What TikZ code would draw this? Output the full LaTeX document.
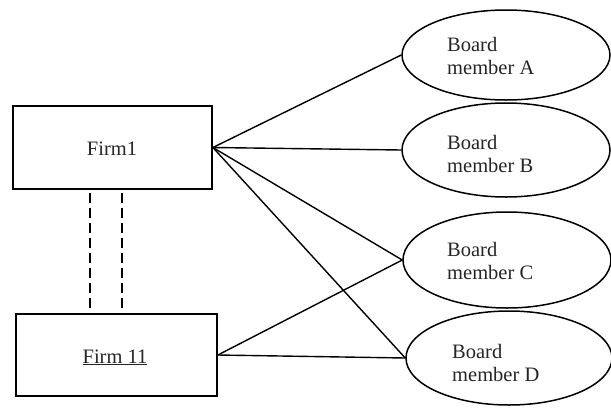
\documentclass[tikz,border=0pt]{standalone}
\usepackage{fontspec}
\setmainfont{Liberation Serif}
\usetikzlibrary{shapes.geometric,calc}
\begin{document}
\begin{tikzpicture}[x=1pt,y=-1pt,
  firmbox/.style={draw,line width=1.8pt,inner sep=0pt},
  member/.style={draw,ellipse,line width=1.5pt,inner sep=0pt,minimum width=208pt},
  lbl/.style={font=\fontsize{20.5}{22.8}\selectfont,text=black!85,align=left,inner sep=0pt,anchor=base west},
  link/.style={line width=1.4pt},
  tie/.style={line width=1.6pt,dash pattern=on 9.5pt off 5.5pt}]
\useasboundingbox (0,0) rectangle (611,408);
% firms
\node[firmbox,minimum width=199pt,minimum height=83pt] (F1) at (112.5,147.5) {};
\node[firmbox,minimum width=201pt,minimum height=82pt] (F11) at (116.5,355) {};
\node[lbl,anchor=base] (F1t) at (112,155) {Firm1};
\node[lbl,anchor=base] (F11t) at (115,363) {\underline{Firm 11}};
% members
\node[member,minimum height=90pt] (A) at (506,55) {};
\node[member,minimum height=94pt] (B) at (506,150) {};
\node[member,minimum height=96pt] (C) at (507,260) {};
\node[member,minimum height=94pt,minimum width=206pt] (D) at (509,358) {};
\node[lbl] (At) at (447,74.5) {Board\\member A};
\node[lbl] (Bt) at (447,172) {Board\\member B};
\node[lbl] (Ct) at (447,279.5) {Board\\member C};
\node[lbl] (Dt) at (452,381) {Board\\member D};
% links
\draw[link] (F1.east) -- (A.west);
\draw[link] (F1.east) -- (B.west);
\draw[link] (F1.east) -- (C.west);
\draw[link] (F1.east) -- (D.west);
\draw[link] (F11.east) -- (C.west);
\draw[link] (F11.east) -- (D.west);
% dashed ties
\coordinate (t1) at (90,193);
\coordinate (t2) at (122,193);
\draw[tie] (t1) -- (t1 |- F11.north);
\draw[tie] (t2) -- (t2 |- F11.north);
\end{tikzpicture}
\end{document}
